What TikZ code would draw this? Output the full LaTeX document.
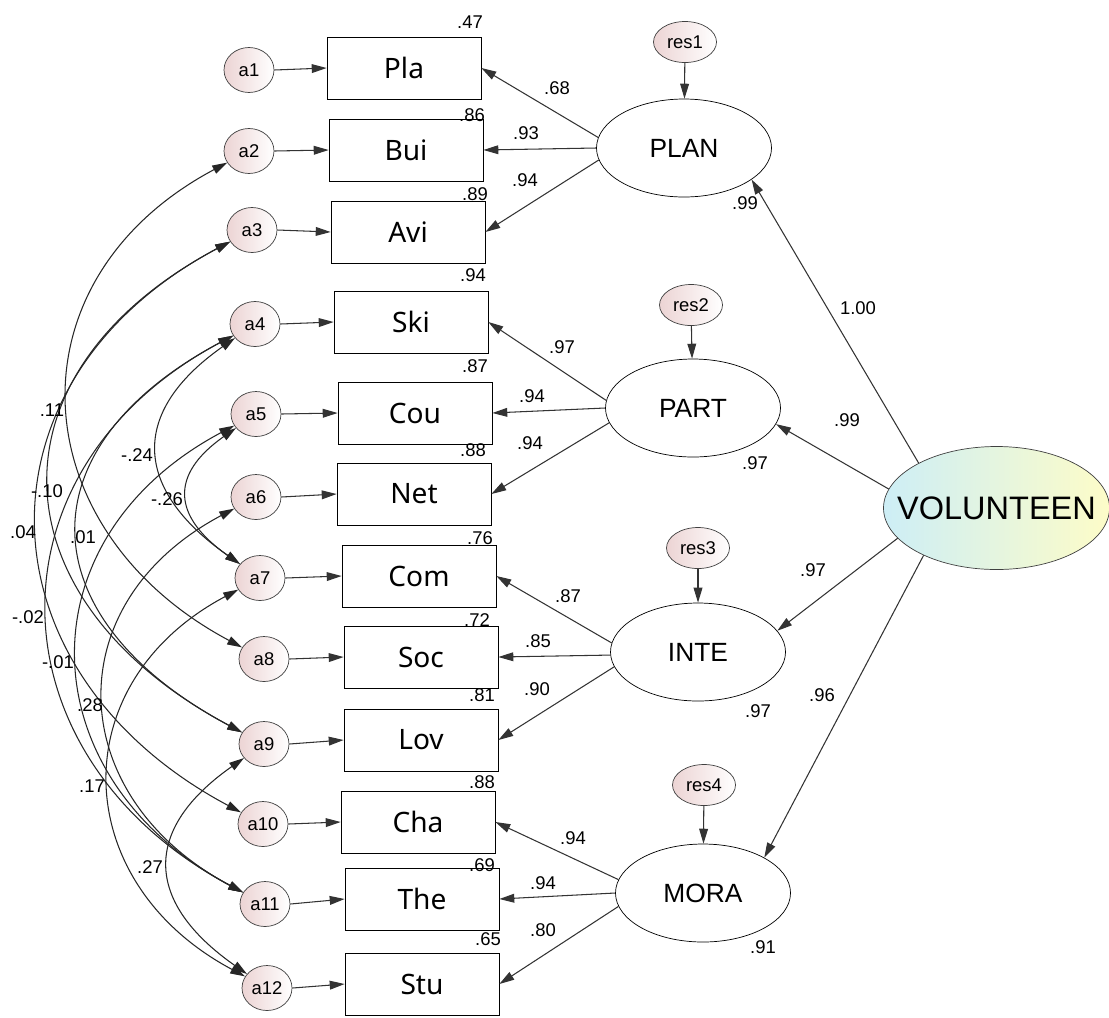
\documentclass[tikz,border=0pt]{standalone}
\usepackage{fontspec}
\setmainfont{Liberation Sans}
\newfontfamily\boxfont{Noto Sans}
\usetikzlibrary{shapes, arrows.meta}
\definecolor{errpink}{RGB}{236,212,212}
\definecolor{volcyan}{RGB}{205,238,246}
\definecolor{volyellow}{RGB}{253,252,200}
\tikzstyle{latent} = [ellipse, draw, minimum width=3.5cm, minimum height=1.96cm, font=\fontsize{15}{18}\selectfont]
\tikzstyle{manifest} = [rectangle, draw, minimum width=3.08cm, minimum height=1.24cm, font=\boxfont\fontsize{16}{19}\selectfont]
\tikzstyle{err} = [ellipse, draw=black!75, left color=errpink, right color=white, minimum width=1cm, minimum height=0.9cm, inner sep=0pt, font=\fontsize{10.5}{12}\selectfont]
\tikzstyle{resid} = [err, minimum width=1.26cm, minimum height=0.82cm]
\tikzstyle{second} = [ellipse, draw=black!75, left color=volcyan, right color=volyellow, minimum width=4.52cm, minimum height=2.46cm]
\tikzstyle{coef} = [font=\fontsize{10.5}{12}\selectfont, inner sep=0pt]
\tikzstyle{reg} = [-{Triangle[length=8.5pt,width=5pt]}, line width=0.6pt, draw=black!80]
\tikzstyle{cov} = [{Triangle[length=8.5pt,width=5pt]}-{Triangle[length=8.5pt,width=5pt]}, line width=0.6pt, draw=black!85]

\begin{document}
\begin{tikzpicture}
  \useasboundingbox (0,0) rectangle (22.18,-20.34);

  % second order factor
  \node[second, label={[font=\fontsize{18.5}{22}\selectfont]center:VOLUNTEEN}] (vol) at (19.93,-10.16) {};

  % first order factors
  \node[latent] (plan) at (13.68,-2.96) {PLAN};
  \node[latent] (part) at (13.86,-8.16) {PART};
  \node[latent] (inte) at (13.96,-13.04) {INTE};
  \node[latent] (mora) at (14.06,-17.86) {MORA};

  % disturbances
  \node[resid] (res1) at (13.70,-0.84) {res1};
  \node[resid] (res2) at (13.82,-6.10) {res2};
  \node[resid] (res3) at (13.96,-10.96) {res3};
  \node[resid] (res4) at (14.08,-15.70) {res4};

  % indicators
  \node[manifest] (pla) at (8.08,-1.36) {Pla};
  \node[manifest] (bui) at (8.12,-3.00) {Bui};
  \node[manifest] (avi) at (8.16,-4.64) {Avi};
  \node[manifest] (ski) at (8.22,-6.44) {Ski};
  \node[manifest] (cou) at (8.30,-8.26) {Cou};
  \node[manifest] (net) at (8.28,-9.88) {Net};
  \node[manifest] (com) at (8.38,-11.52) {Com};
  \node[manifest] (soc) at (8.42,-13.14) {Soc};
  \node[manifest] (lov) at (8.42,-14.80) {Lov};
  \node[manifest] (cha) at (8.36,-16.44) {Cha};
  \node[manifest] (the) at (8.44,-17.98) {The};
  \node[manifest] (stu) at (8.44,-19.68) {Stu};

  % errors
  \node[err] (a1) at (4.98,-1.40) {a1};
  \node[err] (a2) at (4.98,-3.02) {a2};
  \node[err] (a3) at (5.04,-4.60) {a3};
  \node[err] (a4) at (5.10,-6.48) {a4};
  \node[err] (a5) at (5.12,-8.28) {a5};
  \node[err] (a6) at (5.12,-9.94) {a6};
  \node[err] (a7) at (5.20,-11.56) {a7};
  \node[err] (a8) at (5.28,-13.18) {a8};
  \node[err] (a9) at (5.28,-14.88) {a9};
  \node[err] (a10) at (5.26,-16.48) {a10};
  \node[err] (a11) at (5.30,-18.08) {a11};
  \node[err] (a12) at (5.34,-19.76) {a12};

  % second order loadings
  \draw[reg] (vol.150) -- (plan.-25);
  \draw[reg] (vol.170) -- (part.-11);
  \draw[reg] (vol.197) -- (inte.15);
  \draw[reg] (vol.213) -- (mora.30);
  \node[coef] at (17.16,-6.16) {1.00};
  \node[coef] at (16.94,-8.40) {.99};
  \node[coef] at (16.26,-11.40) {.97};
  \node[coef] at (16.44,-13.90) {.96};
  \node[coef] at (14.90,-4.06) {.99};
  \node[coef] at (15.10,-9.26) {.97};
  \node[coef] at (15.16,-14.22) {.97};
  \node[coef] at (15.26,-18.94) {.91};

  % disturbances to factors
  \draw[reg] (res1) -- (plan);
  \draw[reg] (res2) -- (part);
  \draw[reg] (res3) -- (inte);
  \draw[reg] (res4) -- (mora);

  % first order loadings
  \draw[reg] (plan.173) -- (pla.east);
  \draw[reg] (plan.180) -- (bui.east);
  \draw[reg] (plan.188) -- (avi.east);
  \draw[reg] (part.175) -- (ski.east);
  \draw[reg] (part.180) -- (cou.east);
  \draw[reg] (part.190) -- (net.east);
  \draw[reg] (inte.174) -- (com.east);
  \draw[reg] (inte.182) -- (soc.east);
  \draw[reg] (inte.190) -- (lov.east);
  \draw[reg] (mora.171) -- (cha.east);
  \draw[reg] (mora.180) -- (the.east);
  \draw[reg] (mora.189) -- (stu.east);
  \node[coef] at (11.14,-1.76) {.68};
  \node[coef] at (10.52,-2.66) {.93};
  \node[coef] at (10.50,-3.60) {.94};
  \node[coef] at (11.24,-6.94) {.97};
  \node[coef] at (10.64,-7.92) {.94};
  \node[coef] at (10.60,-8.86) {.94};
  \node[coef] at (11.36,-11.92) {.87};
  \node[coef] at (10.76,-12.82) {.85};
  \node[coef] at (10.74,-13.78) {.90};
  \node[coef] at (11.46,-16.76) {.94};
  \node[coef] at (10.86,-17.66) {.94};
  \node[coef] at (10.86,-18.60) {.80};

  % squared multiple correlations
  \node[coef] at (9.40,-0.44) {.47};
  \node[coef] at (9.44,-2.30) {.86};
  \node[coef] at (9.50,-3.88) {.89};
  \node[coef] at (9.46,-5.50) {.94};
  \node[coef] at (9.50,-7.32) {.87};
  \node[coef] at (9.46,-9.00) {.88};
  \node[coef] at (9.60,-10.76) {.76};
  \node[coef] at (9.54,-12.40) {.72};
  \node[coef] at (9.64,-13.90) {.81};
  \node[coef] at (9.64,-15.64) {.88};
  \node[coef] at (9.64,-17.30) {.69};
  \node[coef] at (9.76,-18.78) {.65};

  % errors to indicators
  \draw[reg] (a1.east) -- (pla.west);
  \draw[reg] (a2.east) -- (bui.west);
  \draw[reg] (a3.east) -- (avi.west);
  \draw[reg] (a4.east) -- (ski.west);
  \draw[reg] (a5.east) -- (cou.west);
  \draw[reg] (a6.east) -- (net.west);
  \draw[reg] (a7.east) -- (com.west);
  \draw[reg] (a8.east) -- (soc.west);
  \draw[reg] (a9.east) -- (lov.west);
  \draw[reg] (a10.east) -- (cha.west);
  \draw[reg] (a11.east) -- (the.west);
  \draw[reg] (a12.east) -- (stu.west);

  % error covariances
  \draw[cov] (a2.208) .. controls +(208:5.02) and +(152:5.02) .. (a8.152);
  \draw[cov] (a3.208) .. controls +(208:5.62) and +(152:5.62) .. (a9.152);
  \draw[cov] (a3.208) .. controls +(208:5.98) and +(152:5.98) .. (a10.152);
  \draw[cov] (a4.208) .. controls +(208:4.82) and +(152:4.82) .. (a9.152);
  \draw[cov] (a4.215) .. controls +(215:2.60) and +(145:2.60) .. (a7.145);
  \draw[cov] (a5.215) .. controls +(215:1.64) and +(145:1.64) .. (a7.145);
  \draw[cov] (a4.208) .. controls +(208:5.74) and +(152:5.74) .. (a11.152);
  \draw[cov] (a5.208) .. controls +(208:4.86) and +(152:4.86) .. (a11.152);
  \draw[cov] (a6.208) .. controls +(208:4.06) and +(152:4.06) .. (a11.152);
  \draw[cov] (a7.208) .. controls +(208:4.00) and +(152:4.00) .. (a12.152);
  \draw[cov] (a9.215) .. controls +(215:2.50) and +(145:2.50) .. (a12.145);
  \node[coef] at (1.04,-8.20) {.11};
  \node[coef] at (2.74,-9.10) {-.24};
  \node[coef] at (0.94,-9.82) {-.10};
  \node[coef] at (3.34,-9.98) {-.26};
  \node[coef] at (0.46,-10.64) {.04};
  \node[coef] at (1.66,-10.74) {.01};
  \node[coef] at (0.56,-12.34) {-.02};
  \node[coef] at (1.16,-13.24) {-.01};
  \node[coef] at (1.80,-14.10) {.28};
  \node[coef] at (1.84,-15.72) {.17};
  \node[coef] at (3.00,-17.34) {.27};
\end{tikzpicture}
\end{document}
